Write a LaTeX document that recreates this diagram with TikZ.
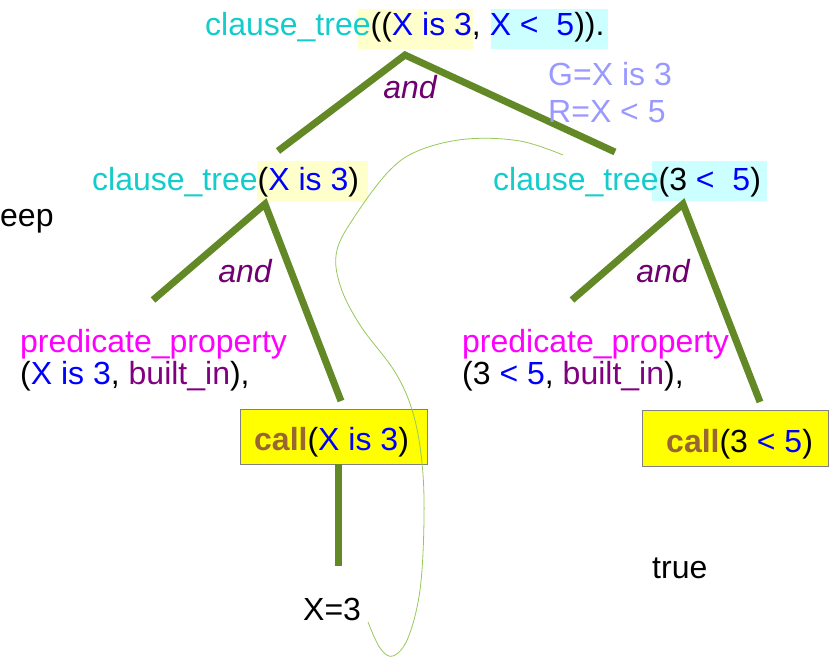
\documentclass[tikz,border=0pt]{standalone}
\usepackage{fontspec}
\setmainfont{Liberation Sans}
\definecolor{treeg}{RGB}{99,137,39}
\definecolor{curveg}{RGB}{150,200,90}
\definecolor{ctc}{RGB}{20,204,204}
\definecolor{blu}{RGB}{0,0,255}
\definecolor{mag}{RGB}{255,0,255}
\definecolor{pur}{RGB}{128,0,128}
\definecolor{andc}{RGB}{112,0,112}
\definecolor{callc}{RGB}{153,102,51}
\definecolor{hly}{RGB}{255,255,204}
\definecolor{hlc}{RGB}{204,255,255}
\definecolor{boxy}{RGB}{255,255,0}
\definecolor{peri}{RGB}{153,153,255}
\tikzset{
  txt/.style={anchor=base west, inner sep=0pt, font=\fontsize{32}{38}\selectfont},
  andlbl/.style={anchor=base, inner sep=0pt, text=andc, font=\fontsize{32}{38}\selectfont\itshape},
  branch/.style={draw=treeg, line width=7pt},
  callbox/.style={draw=gray, fill=boxy, line width=1pt}
}
\begin{document}
\begin{tikzpicture}[x=1pt,y=-1pt]
\useasboundingbox (0,0) rectangle (829,658);
% highlights
\fill[hly] (358,9) rectangle (473,49);
\fill[hlc] (491,9) rectangle (608,49);
\fill[hly] (257,161) rectangle (368,202);
\fill[hlc] (652,161) rectangle (767,201);
% call boxes
\draw[callbox] (240,409) rectangle (427,464);
\draw[callbox] (642,410) rectangle (828,466);
% tree coordinates
\coordinate (r0) at (405,55);
\coordinate (r1) at (278,151);
\coordinate (r2) at (615,152);
\coordinate (l0) at (265,204);
\coordinate (l1) at (153,300);
\coordinate (l2) at (341,401);
\coordinate (m0) at (683,204);
\coordinate (m1) at (572,300);
\coordinate (m2) at (760,402);
\coordinate (v0) at (338,464);
\coordinate (v1) at (338,566);
\draw[branch] (r1) -- (r0) -- (r2);
\draw[branch] (l1) -- (l0) -- (l2);
\draw[branch] (m1) -- (m0) -- (m2);
\draw[branch] (v0) -- (v1);
% thin curve
\draw[curveg, line width=0.8pt] plot[smooth, tension=0.6] coordinates {(563,155) (520,141) (467,139) (420,150) (390,170) (357,213) (337,250) (340,285) (360,325) (395,372) (413,413) (422,463) (424,520) (420,590) (408,638) (393,656) (380,648) (368,622)};
% texts
\node[txt] (top) at (205,36) {\textcolor{ctc}{clause\_tree}((\textcolor{blu}{X is 3}, \textcolor{blu}{X <\ \ 5})).};
\node[andlbl] (and1) at (410,99) {and};
\node[txt, text=peri] (g) at (548,86) {G=X is 3};
\node[txt, text=peri] (r) at (548,122) {R=X < 5};
\node[txt] (ct1) at (92,190) {\textcolor{ctc}{clause\_tree}(\textcolor{blu}{X is 3})};
\node[txt] (ct2) at (493,190) {\textcolor{ctc}{clause\_tree}(3 \textcolor{blu}{<\ \ 5})};
\node[txt] (eep) at (0,226) {eep};
\node[andlbl] (and2) at (245,282) {and};
\node[andlbl] (and3) at (663,282) {and};
\node[txt, text=mag] (pp1) at (20,352) {predicate\_property};
\node[txt] (pa1) at (20,384) {(\textcolor{blu}{X is 3}, \textcolor{pur}{built\_in}),};
\node[txt, text=mag] (pp2) at (462,352) {predicate\_property};
\node[txt] (pa2) at (462,384) {(3 \textcolor{blu}{< 5}, \textcolor{pur}{built\_in}),};
\node[txt] (c1) at (254,450) {\textcolor{callc}{\bfseries call}(\textcolor{blu}{X is 3})};
\node[txt] (c2) at (666,452) {\textcolor{callc}{\bfseries call}(3 \textcolor{blu}{< 5})};
\node[txt] (x3) at (303,620) {X=3};
\node[txt] (tr) at (652,578) {true};
\end{tikzpicture}
\end{document}
